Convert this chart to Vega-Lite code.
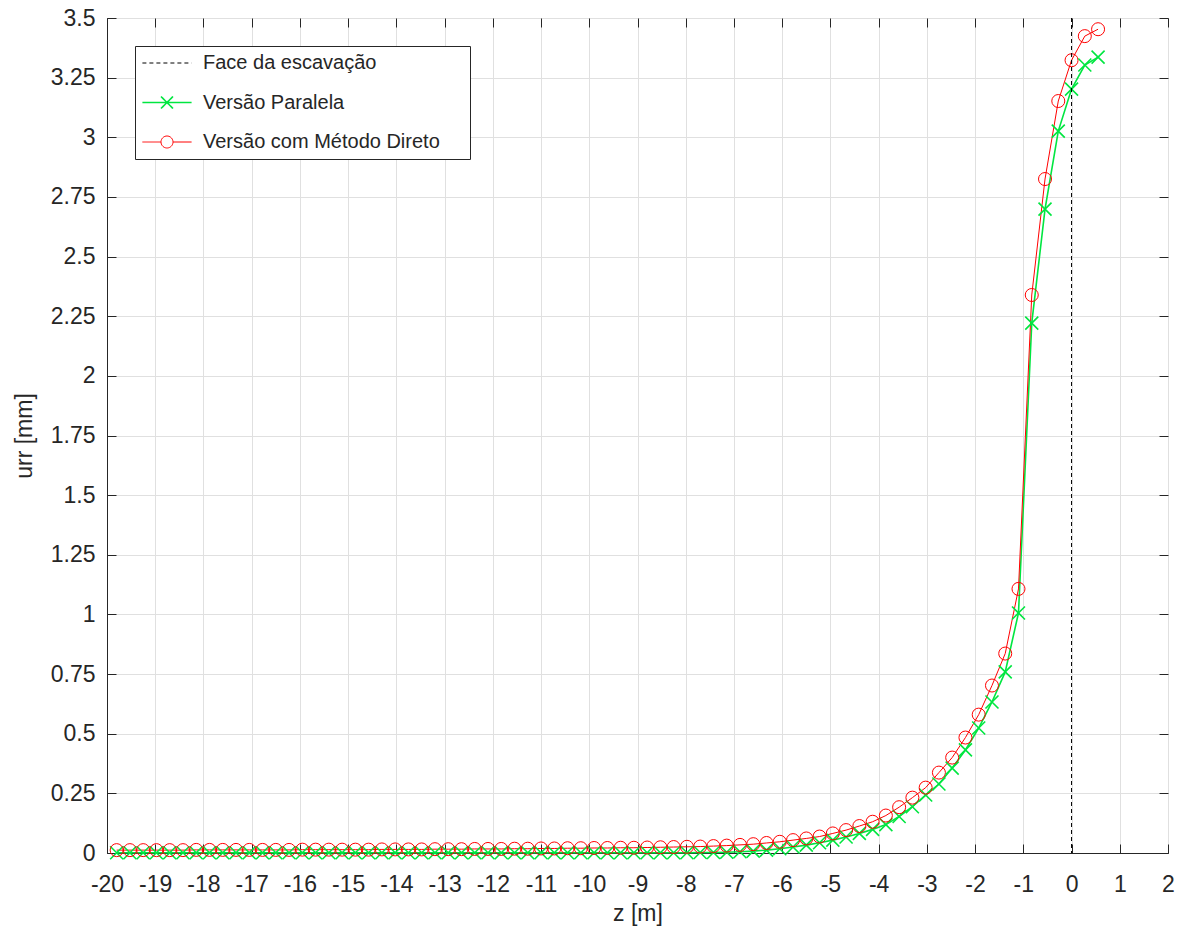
{
  "$schema": "https://vega.github.io/schema/vega-lite/v6.json",
  "width": 1061,
  "height": 835,
  "autosize": {"type": "none"},
  "padding": {"left": 107, "top": 18, "right": 14, "bottom": 77},
  "background": "white",
  "config": {
    "view": {"stroke": "#262626", "strokeWidth": 1},
    "font": "Liberation Sans",
    "axis": {
      "domainColor": "#262626",
      "tickColor": "#262626",
      "gridColor": "#e0e0e0",
      "gridWidth": 1,
      "labelFont": "Liberation Sans",
      "labelFontSize": 23,
      "labelColor": "#262626",
      "titleFont": "Liberation Sans",
      "titleFontSize": 23,
      "titleFontWeight": "normal",
      "titleColor": "#262626",
      "tickSize": -9,
      "labelFlush": false,
      "labelOverlap": false
    }
  },
  "datasets": {
    "curvas": [
      {"z": -19.8, "paralela": 0.001, "direto": 0.012},
      {"z": -19.525, "paralela": 0.001, "direto": 0.012},
      {"z": -19.25, "paralela": 0.001, "direto": 0.012},
      {"z": -18.975, "paralela": 0.001, "direto": 0.012},
      {"z": -18.7, "paralela": 0.001, "direto": 0.012},
      {"z": -18.425, "paralela": 0.001, "direto": 0.012},
      {"z": -18.15, "paralela": 0.001, "direto": 0.013},
      {"z": -17.875, "paralela": 0.001, "direto": 0.013},
      {"z": -17.6, "paralela": 0.001, "direto": 0.013},
      {"z": -17.325, "paralela": 0.001, "direto": 0.013},
      {"z": -17.05, "paralela": 0.001, "direto": 0.013},
      {"z": -16.775, "paralela": 0.001, "direto": 0.013},
      {"z": -16.5, "paralela": 0.001, "direto": 0.013},
      {"z": -16.225, "paralela": 0.001, "direto": 0.013},
      {"z": -15.95, "paralela": 0.001, "direto": 0.014},
      {"z": -15.675, "paralela": 0.001, "direto": 0.014},
      {"z": -15.4, "paralela": 0.001, "direto": 0.014},
      {"z": -15.125, "paralela": 0.001, "direto": 0.014},
      {"z": -14.85, "paralela": 0.001, "direto": 0.014},
      {"z": -14.575, "paralela": 0.001, "direto": 0.014},
      {"z": -14.3, "paralela": 0.001, "direto": 0.015},
      {"z": -14.025, "paralela": 0.001, "direto": 0.015},
      {"z": -13.75, "paralela": 0.001, "direto": 0.015},
      {"z": -13.475, "paralela": 0.001, "direto": 0.015},
      {"z": -13.2, "paralela": 0.001, "direto": 0.016},
      {"z": -12.925, "paralela": 0.001, "direto": 0.016},
      {"z": -12.65, "paralela": 0.001, "direto": 0.016},
      {"z": -12.375, "paralela": 0.001, "direto": 0.017},
      {"z": -12.1, "paralela": 0.001, "direto": 0.017},
      {"z": -11.825, "paralela": 0.001, "direto": 0.017},
      {"z": -11.55, "paralela": 0.001, "direto": 0.018},
      {"z": -11.275, "paralela": 0.001, "direto": 0.018},
      {"z": -11.0, "paralela": 0.001, "direto": 0.019},
      {"z": -10.725, "paralela": 0.001, "direto": 0.019},
      {"z": -10.45, "paralela": 0.001, "direto": 0.020},
      {"z": -10.175, "paralela": 0.001, "direto": 0.020},
      {"z": -9.9, "paralela": 0.001, "direto": 0.021},
      {"z": -9.625, "paralela": 0.001, "direto": 0.021},
      {"z": -9.35, "paralela": 0.001, "direto": 0.022},
      {"z": -9.075, "paralela": 0.001, "direto": 0.022},
      {"z": -8.8, "paralela": 0.001, "direto": 0.023},
      {"z": -8.525, "paralela": 0.001, "direto": 0.024},
      {"z": -8.25, "paralela": 0.001, "direto": 0.025},
      {"z": -7.975, "paralela": 0.001, "direto": 0.026},
      {"z": -7.7, "paralela": 0.002, "direto": 0.027},
      {"z": -7.425, "paralela": 0.002, "direto": 0.029},
      {"z": -7.15, "paralela": 0.003, "direto": 0.031},
      {"z": -6.875, "paralela": 0.005, "direto": 0.034},
      {"z": -6.6, "paralela": 0.008, "direto": 0.037},
      {"z": -6.325, "paralela": 0.012, "direto": 0.042},
      {"z": -6.05, "paralela": 0.018, "direto": 0.047},
      {"z": -5.775, "paralela": 0.025, "direto": 0.054},
      {"z": -5.5, "paralela": 0.033, "direto": 0.061},
      {"z": -5.225, "paralela": 0.043, "direto": 0.069},
      {"z": -4.95, "paralela": 0.054, "direto": 0.082},
      {"z": -4.675, "paralela": 0.067, "direto": 0.096},
      {"z": -4.4, "paralela": 0.082, "direto": 0.113},
      {"z": -4.125, "paralela": 0.099, "direto": 0.131},
      {"z": -3.85, "paralela": 0.119, "direto": 0.157},
      {"z": -3.575, "paralela": 0.153, "direto": 0.192},
      {"z": -3.3, "paralela": 0.194, "direto": 0.232},
      {"z": -3.025, "paralela": 0.243, "direto": 0.274},
      {"z": -2.75, "paralela": 0.289, "direto": 0.337},
      {"z": -2.475, "paralela": 0.356, "direto": 0.400},
      {"z": -2.2, "paralela": 0.432, "direto": 0.484},
      {"z": -1.925, "paralela": 0.524, "direto": 0.580},
      {"z": -1.65, "paralela": 0.633, "direto": 0.702},
      {"z": -1.375, "paralela": 0.759, "direto": 0.836},
      {"z": -1.1, "paralela": 1.006, "direto": 1.107},
      {"z": -0.825, "paralela": 2.221, "direto": 2.339},
      {"z": -0.55, "paralela": 2.699, "direto": 2.825},
      {"z": -0.275, "paralela": 3.026, "direto": 3.152},
      {"z": 0, "paralela": 3.202, "direto": 3.323},
      {"z": 0.275, "paralela": 3.303, "direto": 3.424},
      {"z": 0.55, "paralela": 3.336, "direto": 3.453}
    ],
    "face": [{"serie": "face", "z": 0}]
  },
  "layer": [
    {
      "data": {"name": "curvas"},
      "transform": [{"fold": ["paralela", "direto"], "as": ["serie", "u"]}],
      "mark": {"type": "line"},
      "encoding": {
        "x": {
          "field": "z", "type": "quantitative",
          "scale": {"domain": [-20, 2], "nice": false, "zero": false},
          "axis": {
            "orient": "bottom", "grid": true,
            "values": [-20, -19, -18, -17, -16, -15, -14, -13, -12, -11, -10, -9, -8, -7, -6, -5, -4, -3, -2, -1, 0, 1, 2],
            "labelExpr": "'' + datum.value",
            "labelPadding": 29,
            "title": "z [m]",
            "titlePadding": 6
          }
        },
        "y": {
          "field": "u", "type": "quantitative",
          "scale": {"domain": [0, 3.5], "nice": false},
          "axis": {
            "orient": "left", "grid": true,
            "values": [0, 0.25, 0.5, 0.75, 1, 1.25, 1.5, 1.75, 2, 2.25, 2.5, 2.75, 3, 3.25, 3.5],
            "labelExpr": "'' + datum.value",
            "labelPadding": 21,
            "title": "urr [mm]",
            "titlePadding": 14
          }
        },
        "color": {
          "field": "serie", "type": "nominal",
          "scale": {"domain": ["face", "paralela", "direto"], "range": ["#000000", "#00e640", "#ff0000"]},
          "legend": {
            "orient": "none",
            "legendX": 28,
            "legendY": 28,
            "direction": "vertical",
            "title": null,
            "labelFont": "Liberation Sans",
            "labelFontSize": 20,
            "labelColor": "#262626",
            "strokeColor": "#262626",
            "fillColor": "white",
            "padding": 7,
            "rowPadding": 19.5,
            "symbolSize": 144,
            "symbolOffset": 15,
            "labelOffset": 26,
            "labelLimit": 400,
            "labelExpr": "datum.value === 'face' ? 'Face da escavação' : datum.value === 'paralela' ? 'Versão Paralela' : 'Versão com Método Direto\u00a0\u00a0\u00a0\u00a0\u200b'",
            "encode": {
              "symbols": {
                "update": {
                  "shape": {"signal": "datum.value === 'face' ? 'M-4.1,0H4.1' : datum.value === 'paralela' ? 'M-4.1,0H4.1M-1,-1L1,1M-1,1L1,-1' : 'M-4.1,0H-1M1,0H4.1M-1,0A1,1 0 1,0 1,0A1,1 0 1,0 -1,0'"},
                  "strokeDash": {"signal": "datum.value === 'face' ? [4, 3] : [1, 0]"},
                  "strokeWidth": {"signal": "datum.value === 'paralela' ? 1.6 : 1"},
                  "fill": {"value": "transparent"},
                  "size": {"value": 144},
                  "opacity": {"value": 1}
                }
              }
            }
          }
        },
        "strokeWidth": {
          "field": "serie", "type": "nominal",
          "scale": {"domain": ["paralela", "direto"], "range": [1.6, 1]},
          "legend": null
        }
      }
    },
    {
      "data": {"name": "curvas"},
      "transform": [{"fold": ["paralela", "direto"], "as": ["serie", "u"]}],
      "mark": {"type": "point", "filled": false, "size": 169, "opacity": 1},
      "encoding": {
        "x": {
          "field": "z", "type": "quantitative",
          "axis": {
            "orient": "top", "grid": false, "labels": false, "domain": false, "title": null,
            "values": [-20, -19, -18, -17, -16, -15, -14, -13, -12, -11, -10, -9, -8, -7, -6, -5, -4, -3, -2, -1, 0, 1, 2]
          }
        },
        "y": {
          "field": "u", "type": "quantitative",
          "axis": {
            "orient": "right", "grid": false, "labels": false, "domain": false, "title": null,
            "values": [0, 0.25, 0.5, 0.75, 1, 1.25, 1.5, 1.75, 2, 2.25, 2.5, 2.75, 3, 3.25, 3.5]
          }
        },
        "color": {"field": "serie", "type": "nominal"},
        "shape": {
          "field": "serie", "type": "nominal",
          "scale": {"domain": ["paralela", "direto"], "range": ["M-1,-1L1,1M-1,1L1,-1", "circle"]},
          "legend": null
        },
        "strokeWidth": {"field": "serie", "type": "nominal", "legend": null}
      }
    },
    {
      "data": {"name": "face"},
      "mark": {"type": "rule", "strokeDash": [4, 3], "strokeWidth": 1},
      "encoding": {
        "x": {"field": "z", "type": "quantitative", "axis": null},
        "color": {"field": "serie", "type": "nominal"}
      }
    }
  ]
}
